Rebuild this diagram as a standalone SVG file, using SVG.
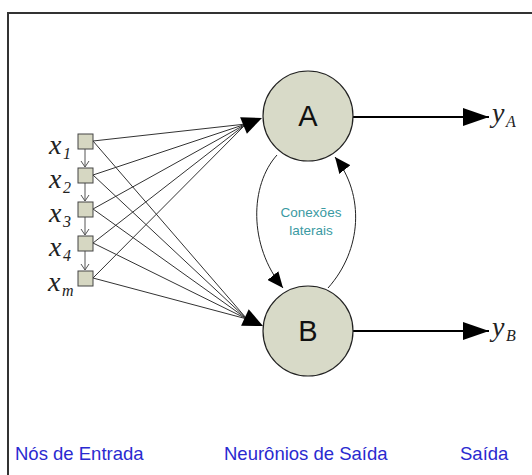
<svg xmlns="http://www.w3.org/2000/svg" width="532" height="475" viewBox="0 0 532 475">
<style>
.frame{fill:none;stroke:#333;stroke-width:2}
.sq{fill:#d6d7c2;stroke:#444;stroke-width:1}
.neu{fill:#d8dac8;stroke:#222;stroke-width:1.2}
.conn{stroke:#333;stroke-width:1;fill:none}
.vert{stroke:#555;stroke-width:1;fill:none;marker-end:url(#open)}
.out{stroke:#000;stroke-width:2;fill:none;marker-end:url(#big)}
.lat{stroke:#222;stroke-width:1;fill:none;marker-end:url(#mid)}
.head{fill:#000}
.var{font-family:"Liberation Serif",serif;font-style:italic;font-size:28px;fill:#222}
.sub{font-family:"Liberation Serif",serif;font-style:italic;font-size:16px;fill:#222}
.nl{font-family:"Liberation Sans",Arial,sans-serif;font-size:29px;fill:#111;text-anchor:middle}
.lat-t{font-family:"Liberation Sans",Arial,sans-serif;font-size:13.5px;fill:#3a9aa2;text-anchor:middle}
.cap{font-family:"Liberation Sans",Arial,sans-serif;font-size:18.5px;fill:#2a2ad0}
</style>
<defs>
<marker id="open" markerWidth="10" markerHeight="10" refX="7" refY="5" orient="auto" markerUnits="userSpaceOnUse">
<path d="M1,1 L7,5 L1,9" fill="none" stroke="#555" stroke-width="1"/>
</marker>
<marker id="big" markerWidth="26" markerHeight="18" refX="26" refY="9" orient="auto" markerUnits="userSpaceOnUse">
<path d="M0,0 L26,9 L0,18 Z" fill="#000"/>
</marker>
<marker id="mid" markerWidth="16" markerHeight="14" refX="16" refY="7" orient="auto" markerUnits="userSpaceOnUse">
<path d="M0,0 L16,7 L0,14 Z" fill="#000"/>
</marker>
</defs>
<rect width="532" height="475" fill="#fff"/>
<rect class="frame" x="8" y="13" width="540" height="480"/>

<g id="connectors">
<line class="conn" x1="93" y1="141" x2="246" y2="124"/>
<line class="conn" x1="93" y1="175" x2="246" y2="124"/>
<line class="conn" x1="93" y1="209" x2="246" y2="124"/>
<line class="conn" x1="93" y1="243" x2="246" y2="124"/>
<line class="conn" x1="93" y1="278" x2="246" y2="124"/>
<line class="conn" x1="93" y1="141" x2="247" y2="319"/>
<line class="conn" x1="93" y1="175" x2="247" y2="319"/>
<line class="conn" x1="93" y1="209" x2="247" y2="319"/>
<line class="conn" x1="93" y1="243" x2="247" y2="319"/>
<line class="conn" x1="93" y1="278" x2="247" y2="319"/>
<polygon class="head" points="262,118 246.9,133.8 240.1,117.2"/>
<polygon class="head" points="263,326 248.7,309.3 241.1,325.7"/>
<line class="vert" x1="85" y1="149" x2="85" y2="167"/>
<line class="vert" x1="85" y1="183" x2="85" y2="201"/>
<line class="vert" x1="85" y1="217" x2="85" y2="235"/>
<line class="vert" x1="85" y1="251" x2="85" y2="270"/>
<line class="out" x1="353" y1="117" x2="489" y2="117"/>
<line class="out" x1="353" y1="331" x2="489" y2="331"/>
<path class="lat" d="M277,155 C250,185 248,245 283,288"/>
<path class="lat" d="M328,288 C362,250 365,195 335,157"/>
</g>

<g id="x1"><rect class="sq" x="78" y="134" width="15" height="15"/><text class="var" x="49" y="154">x</text><text class="sub" x="63" y="159">1</text></g>
<g id="x2"><rect class="sq" x="78" y="168" width="15" height="15"/><text class="var" x="49" y="188">x</text><text class="sub" x="63" y="193">2</text></g>
<g id="x3"><rect class="sq" x="78" y="202" width="15" height="15"/><text class="var" x="49" y="222">x</text><text class="sub" x="63" y="227">3</text></g>
<g id="x4"><rect class="sq" x="78" y="236" width="15" height="15"/><text class="var" x="49" y="256">x</text><text class="sub" x="63" y="261">4</text></g>
<g id="xm"><rect class="sq" x="78" y="271" width="15" height="15"/><text class="var" x="48" y="291">x</text><text class="sub" x="62" y="296">m</text></g>

<g id="A"><circle class="neu" cx="308" cy="116" r="45"/><text class="nl" x="308" y="126">A</text></g>
<g id="B"><circle class="neu" cx="308" cy="331" r="45"/><text class="nl" x="308" y="341">B</text></g>

<g id="yA"><text class="var" x="492" y="122">y</text><text class="sub" x="506" y="127">A</text></g>
<g id="yB"><text class="var" x="492" y="336">y</text><text class="sub" x="506" y="341">B</text></g>

<g id="lateral-label"><text class="lat-t" x="311" y="217">Conexões</text><text class="lat-t" x="311" y="235">laterais</text></g>

<g id="captions">
<text class="cap" x="15" y="460">Nós de Entrada</text>
<text class="cap" x="224" y="460">Neurônios de Saída</text>
<text class="cap" x="460" y="460">Saída</text>
</g>
</svg>
